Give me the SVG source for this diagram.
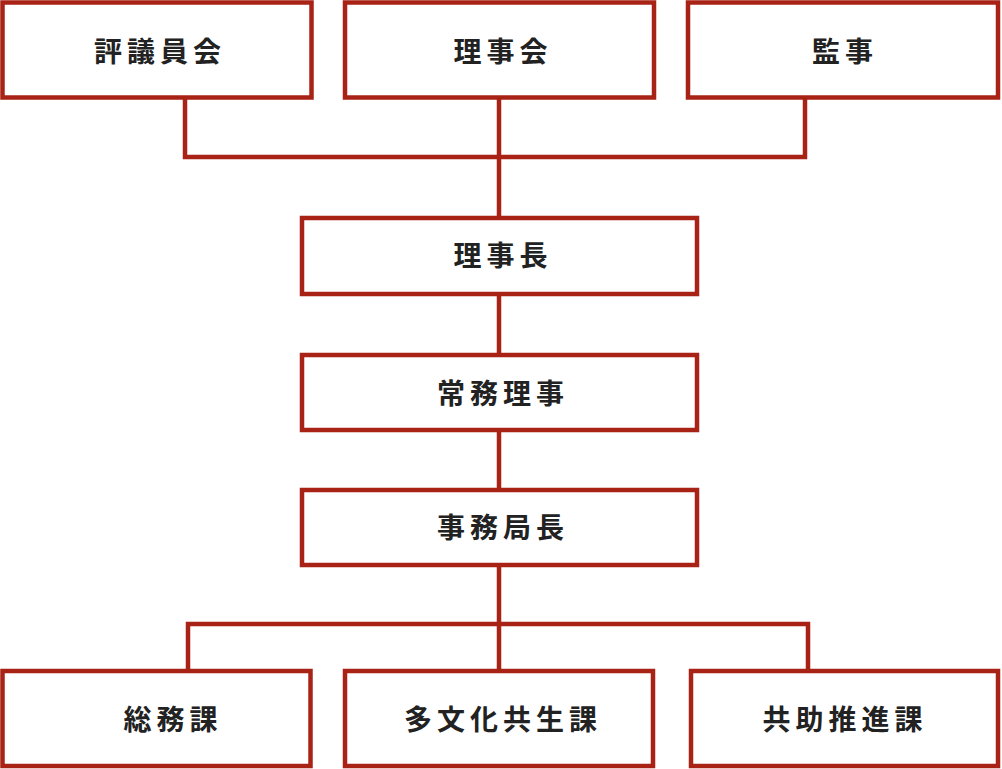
<svg xmlns="http://www.w3.org/2000/svg" width="1002" height="769" viewBox="0 0 1002 769">
<style>
.b{fill:#fff;stroke:#a82315;stroke-width:4.5}
.t{font-family:"Noto Sans CJK JP",sans-serif;font-weight:bold;font-size:28px;fill:#222;text-anchor:middle;dominant-baseline:central;letter-spacing:5px}
.c{fill:none;stroke:#a82315;stroke-width:4.5}
</style>
<rect width="1002" height="769" fill="#fff"/>
<g id="connectors">
<path class="c" d="M185 97V157H805V97M499 97V218M499 294V355M499 430V490M499 565V671M188 671V624H808V671"/>
</g>
<g id="n1"><rect class="b" x="2.5" y="2.5" width="309" height="95"/><text class="t" x="160" y="50">評議員会</text></g>
<g id="n2"><rect class="b" x="345" y="2.5" width="309" height="95"/><text class="t" x="503" y="50">理事会</text></g>
<g id="n3"><rect class="b" x="688" y="2.5" width="310" height="95"/><text class="t" x="845" y="50">監事</text></g>
<g id="n4"><rect class="b" x="302" y="218" width="395" height="76"/><text class="t" x="503" y="254">理事長</text></g>
<g id="n5"><rect class="b" x="302" y="355" width="395" height="75"/><text class="t" x="503" y="392">常務理事</text></g>
<g id="n6"><rect class="b" x="302" y="490" width="395" height="75"/><text class="t" x="503" y="526">事務局長</text></g>
<g id="n7"><rect class="b" x="2.5" y="671" width="308" height="95"/><text class="t" x="173" y="718">総務課</text></g>
<g id="n8"><rect class="b" x="345" y="671" width="308" height="95"/><text class="t" x="503" y="718">多文化共生課</text></g>
<g id="n9"><rect class="b" x="691" y="671" width="307" height="95"/><text class="t" x="845" y="718">共助推進課</text></g>
</svg>
